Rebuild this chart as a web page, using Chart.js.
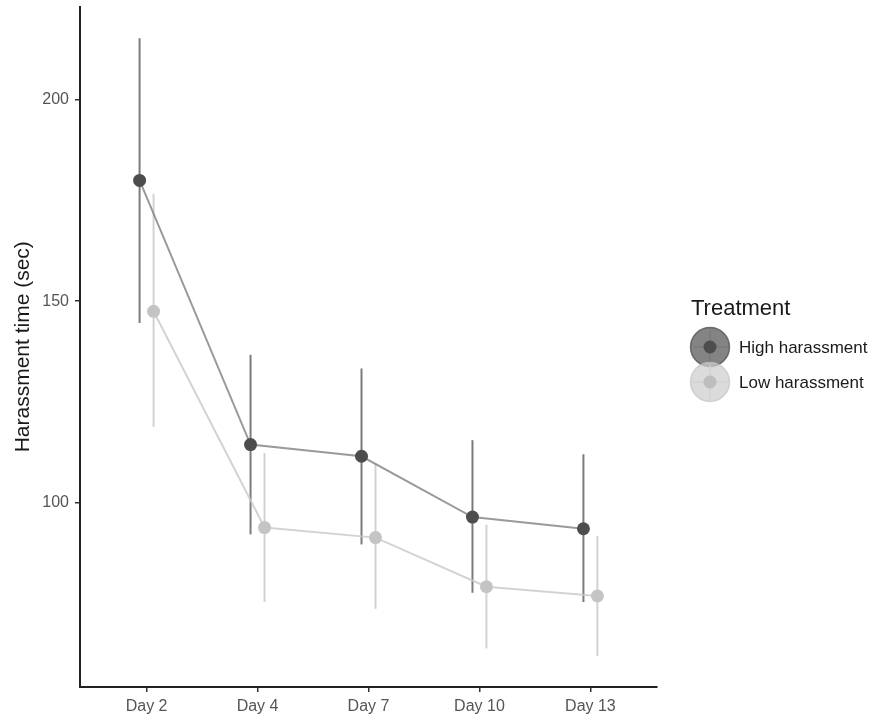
<!DOCTYPE html>
<html>
<head>
<meta charset="utf-8">
<script src="https://cdn.jsdelivr.net/npm/chart.js@4.4.0/dist/chart.umd.min.js"></script>
<style>
  html, body { margin: 0; padding: 0; background: #fff; }
  #wrap { width: 882px; height: 721px; }
</style>
</head>
<body>
<div id="wrap"><canvas id="myChart" width="882" height="721"></canvas></div>
<script>
// categories + values
var days = ["Day 2", "Day 4", "Day 7", "Day 10", "Day 13"];
var yTicks = [100, 150, 200];

var highMean = [180.0, 114.4, 111.5, 96.4, 93.5];
var highLo   = [144.6, 92.1, 89.6, 77.6, 75.3];
var highHi   = [215.3, 136.7, 133.3, 115.5, 112.0];

var lowMean = [147.5, 93.8, 91.3, 79.1, 76.8];
var lowLo   = [118.8, 75.3, 73.6, 63.8, 61.9];
var lowHi   = [176.7, 112.3, 109.7, 94.5, 91.7];

var dodge = 0.063;
var FONT = "'Liberation Sans', Arial, sans-serif";

function pts(arr, off) {
  return arr.map(function (v, i) { return { x: i + off, y: v }; });
}

var errorBars = {
  id: 'errorBars',
  beforeDatasetsDraw: function (chart) {
    var ctx = chart.ctx;
    var xs = chart.scales.x, ys = chart.scales.y;
    var sets = [
      { lo: highLo, hi: highHi, off: -dodge, color: '#7b7b7b' },
      { lo: lowLo, hi: lowHi, off: dodge, color: '#d2d2d2' }
    ];
    ctx.save();
    ctx.lineWidth = 2;
    sets.forEach(function (s) {
      ctx.strokeStyle = s.color;
      for (var i = 0; i < days.length; i++) {
        var px = xs.getPixelForValue(i + s.off);
        ctx.beginPath();
        ctx.moveTo(px, ys.getPixelForValue(s.lo[i]));
        ctx.lineTo(px, ys.getPixelForValue(s.hi[i]));
        ctx.stroke();
      }
    });
    ctx.restore();
  }
};

var sideLegend = {
  id: 'sideLegend',
  afterDraw: function (chart) {
    var ctx = chart.ctx;
    var x0 = chart.chartArea.right + 34;
    ctx.save();
    ctx.fillStyle = '#1a1a1a';
    ctx.font = '22px ' + FONT;
    ctx.textBaseline = 'middle';
    ctx.textAlign = 'left';
    ctx.fillText('Treatment', x0, 309);
    var keys = [
      { y: 347, label: 'High harassment', fill: 'rgba(85,85,85,0.72)', ring: 'rgba(70,70,70,0.7)', line: '#7b7b7b', dot: '#4d4d4d' },
      { y: 382, label: 'Low harassment', fill: 'rgba(205,205,205,0.72)', ring: 'rgba(195,195,195,0.7)', line: '#d2d2d2', dot: '#bdbdbd' }
    ];
    keys.forEach(function (k) {
      var cx = x0 + 19;
      ctx.beginPath();
      ctx.arc(cx, k.y, 19.5, 0, Math.PI * 2);
      ctx.fillStyle = k.fill;
      ctx.fill();
      ctx.lineWidth = 1.5;
      ctx.strokeStyle = k.ring;
      ctx.stroke();
      ctx.strokeStyle = k.line;
      ctx.lineWidth = 1.5;
      ctx.beginPath();
      ctx.moveTo(cx - 17, k.y); ctx.lineTo(cx + 17, k.y);
      ctx.moveTo(cx, k.y - 17); ctx.lineTo(cx, k.y + 17);
      ctx.stroke();
      ctx.beginPath();
      ctx.arc(cx, k.y, 6.5, 0, Math.PI * 2);
      ctx.fillStyle = k.dot;
      ctx.fill();
      ctx.fillStyle = '#1a1a1a';
      ctx.font = '17px ' + FONT;
      ctx.fillText(k.label, x0 + 48, k.y + 1);
    });
    ctx.restore();
  }
};

new Chart("myChart", {
  type: "line",
  data: {
    datasets: [{
      label: 'High harassment',
      data: pts(highMean, -dodge),
      borderColor: 'rgba(120,120,120,0.75)',
      borderWidth: 2,
      pointRadius: 6.5,
      pointBackgroundColor: '#4d4d4d',
      pointBorderColor: '#4d4d4d',
      pointBorderWidth: 0,
      fill: false,
      order: 1
    }, {
      label: 'Low harassment',
      data: pts(lowMean, dodge),
      borderColor: 'rgba(200,200,200,0.8)',
      borderWidth: 2,
      pointRadius: 6.5,
      pointBackgroundColor: '#c4c4c4',
      pointBorderColor: '#c4c4c4',
      pointBorderWidth: 0,
      fill: false,
      order: 2
    }]
  },
  options: {
    responsive: false,
    animation: false,
    layout: { padding: { top: 6, right: 225, left: 0, bottom: 0 } },
    plugins: {
      legend: { display: false },
      tooltip: { enabled: false }
    },
    scales: {
      x: {
        type: 'linear',
        min: -0.6,
        max: 4.6,
        afterBuildTicks: function (scale) {
          scale.ticks = days.map(function (d, i) { return { value: i }; });
        },
        afterFit: function (scale) {
          scale.height = 34;
          scale.paddingLeft = 0;
          scale.paddingRight = 0;
        },
        ticks: {
          callback: function (v) { return days[v]; },
          color: '#555',
          font: { family: FONT, size: 16 },
          padding: 5,
          maxRotation: 0
        },
        grid: { drawOnChartArea: false, drawTicks: true, tickLength: 5, color: '#333', lineWidth: 1.5 },
        border: { color: '#222', width: 2 }
      },
      y: {
        min: 54.2,
        max: 223.2,
        afterBuildTicks: function (scale) {
          scale.ticks = yTicks.map(function (v) { return { value: v }; });
        },
        afterFit: function (scale) {
          scale.width = 80;
          scale.paddingTop = 0;
          scale.paddingBottom = 0;
        },
        ticks: {
          color: '#555',
          font: { family: FONT, size: 16 },
          padding: 6
        },
        title: {
          display: true,
          text: 'Harassment time (sec)',
          color: '#1a1a1a',
          font: { family: FONT, size: 21 },
          padding: { top: 11, bottom: 0 }
        },
        grid: { drawOnChartArea: false, drawTicks: true, tickLength: 5, color: '#333', lineWidth: 1.5 },
        border: { color: '#222', width: 2 }
      }
    }
  },
  plugins: [errorBars, sideLegend]
});
</script>
</body>
</html>
